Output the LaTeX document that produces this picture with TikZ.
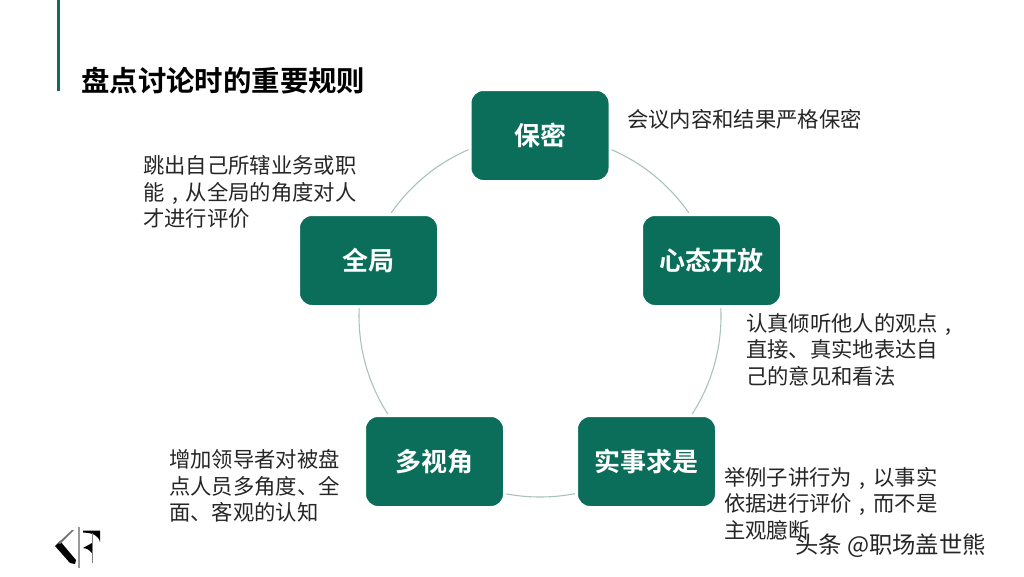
\documentclass[tikz,border=0pt]{standalone}
\usepackage{fontspec}
\setmainfont{Noto Sans CJK SC}
\newfontfamily\cjkbold[BoldFont={Noto Sans CJK SC Bold}]{Noto Sans CJK SC Bold}
\definecolor{teal1}{HTML}{0B6E5A}
\definecolor{bodytxt}{HTML}{262626}
\newcommand{\zc}{\makebox[1em][c]{,}}
\tikzset{
  rulebox/.style={draw=white,line width=2.25pt,fill=teal1,rounded corners=10pt,minimum width=105pt,minimum height=69pt,inner sep=0pt,text=white,font=\fontsize{19.5pt}{23pt}\selectfont\cjkbold},
  note/.style={anchor=west,align=left,inner sep=0pt,text=bodytxt,font=\fontsize{16pt}{19.9pt}\selectfont},
  ringline/.style={draw=ringc,line width=0.8pt},
}
\definecolor{ringc}{HTML}{A8C2BA}
\begin{document}
\begin{tikzpicture}[x=0.75pt,y=-0.75pt]
\useasboundingbox (0,0) rectangle (1024,576);
\fill[white] (0,0) rectangle (1024,576);
% title
\fill[teal1] (56.5,0) rectangle (59.5,91);
\node[anchor=west,inner sep=0pt,text=black,font=\fontsize{21.3pt}{25pt}\selectfont\cjkbold] (title) at (81,81) {盘点讨论时的重要规则};
% ring
\draw[ringline] (540,316) circle (181);
% boxes
\node[rulebox] (baomi) at (540,135.5) {保密};
\node[rulebox] (xintai) at (711.5,260.5) {心态开放};
\node[rulebox] (quanju) at (368.5,260.5) {全局};
\node[rulebox] (duoshi) at (434.5,461.5) {多视角};
\node[rulebox] (shishi) at (646.5,461.5) {实事求是};
% notes
\node[note] (n1) at (627,119) {会议内容和结果严格保密};
\node[note] (n2) at (143,192) {跳出自己所辖业务或职\\能\zc 从全局的角度对人\\才进行评价};
\node[note] (n3) at (746,349.5) {认真倾听他人的观点\zc\\直接、真实地表达自\\己的意见和看法};
\node[note] (n4) at (169,486) {增加领导者对被盘\\点人员多角度、全\\面、客观的认知};
\node[note] (n5) at (724,503.5) {举例子讲行为\zc 以事实\\依据进行评价\zc 而不是\\主观臆断};
% logo
\fill[black] (55,546) -- (60,541) -- (76,560) -- (75,564) -- (70,563) -- cycle;
\fill[black!55] (58,543) -- (72,530) -- (74,530) -- (60,544) -- cycle;
\draw[black!40,line width=0.8pt] (79,527) -- (79,568);
\fill[black] (83,530.5) -- (100,530.5) -- (100,542) .. controls (98,535) and (93,533) .. (83,532.5) -- cycle;
\fill[black] (83,548) -- (92,543) -- (92,553) .. controls (90,550) and (87,548.5) .. cycle;
\fill[black!50] (91.5,533) rectangle (92.5,563);
% watermark
\node[anchor=west,inner sep=0pt,text=black!85,font=\fontsize{17.5pt}{21pt}\selectfont] (mark) at (795,546) {头条 @职场盖世熊};
\end{tikzpicture}
\end{document}
